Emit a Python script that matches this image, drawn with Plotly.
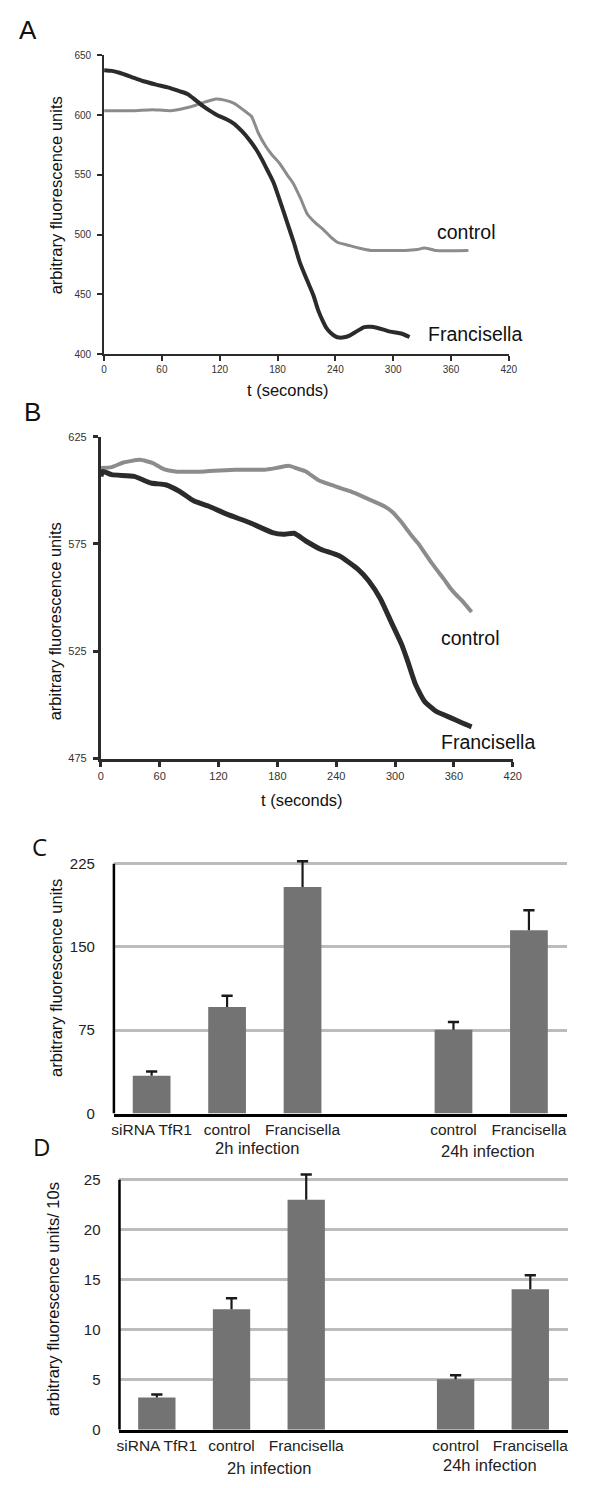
import plotly.graph_objects as go

# ---------------- Data ----------------
# Panel A
a_ctrl_t = [0, 30, 50, 69, 90, 105, 116, 125, 135, 145, 153, 160, 168, 175, 182, 190, 196, 204, 211, 219, 227, 235, 242, 254, 265, 277, 290, 312, 325, 332, 338, 344, 360, 378]
a_ctrl_v = [603.7, 603.7, 604.5, 603.7, 607, 611, 613.5, 612.5, 609.8, 604, 598.8, 585, 573.5, 566, 559.7, 550, 543.2, 530, 517, 510, 504.6, 498, 493.6, 490.9, 488.5, 486.7, 486.7, 486.7, 487.5, 488.7, 488, 486.7, 486.5, 486.7]
a_fran_t = [0, 8, 16, 28, 40, 54, 67, 78, 87, 95, 102, 110, 118, 127, 135, 143, 151, 158, 164, 170, 176, 183, 190, 197, 203, 210, 217, 222, 227, 231, 235, 240, 244, 249, 254, 262, 270, 277, 283, 290, 297, 303, 309, 317]
a_fran_v = [637.6, 637.0, 635.4, 632.0, 628.5, 625.5, 623.0, 620.0, 617.5, 612.5, 607.9, 603.5, 599.6, 596.5, 592.7, 586.5, 579.0, 571.0, 562.5, 553.0, 543.2, 527.0, 510.0, 493.0, 477.0, 463.0, 449.6, 437.0, 427.6, 421.5, 417.9, 414.8, 413.8, 414.0, 415.2, 419.0, 422.6, 422.8, 422.0, 420.5, 418.8, 418.0, 417.0, 414.3]

# Panel B
b_ctrl_t = [0, 11, 23, 40, 53, 64, 76, 106, 137, 167, 180, 192, 200, 209, 222, 239, 254, 270, 289, 297, 304, 311, 317, 324, 330, 336, 342, 350, 357, 363, 368, 378]
b_ctrl_v = [610.4, 610.8, 613.0, 614.2, 612.7, 609.9, 608.8, 608.8, 609.6, 609.6, 610.5, 611.4, 610.2, 608.8, 604.7, 601.9, 599.6, 596.5, 592.6, 590.0, 586.5, 582.5, 578.8, 575.0, 571.0, 567.0, 563.3, 558.5, 554.0, 551.0, 548.7, 543.3]
b_fran_t = [0, 2, 11, 34, 51, 66, 80, 95, 110, 129, 152, 175, 186, 197, 209, 224, 243, 262, 273, 285, 296, 307, 313, 321, 330, 342, 357, 368, 378]
b_fran_v = [606.5, 608.8, 607.3, 606.5, 603.4, 602.6, 599.6, 595.0, 592.6, 588.8, 584.9, 580.3, 579.5, 580.0, 576.4, 572.6, 569.5, 563.3, 557.9, 549.5, 538.7, 527.9, 520.2, 509.4, 501.7, 497.0, 494.0, 491.7, 489.8]

# Panels C and D
bar_labels = ["siRNA TfR1", "control", "Francisella", "control", "Francisella"]
bar_slots = [0, 1, 2, 4, 5]
groups = ["2h infection", "24h infection"]
c_means = [34, 96, 204, 75.4, 165]
c_errs = [3.9, 10.1, 23.2, 7.1, 18.1]
d_means = [3.23, 12.04, 23.0, 5.05, 14.05]
d_errs = [0.3, 1.1, 2.5, 0.4, 1.4]

a_yticks = [400, 450, 500, 550, 600, 650]
b_yticks = [475, 525, 575, 625]
t_ticks = [0, 60, 120, 180, 240, 300, 360, 420]
c_yticks = [0, 75, 150, 225]
d_yticks = [0, 5, 10, 15, 20, 25]

# ---------------- Style ----------------
W, H = 600, 1488
BLACK = "#2b2b2b"
GRAY = "#8c8c8c"
BAR = "#737373"
GRID = "#bcbcbc"
ERR = "#1a1a1a"
HF = "Liberation Sans, Arial, Helvetica, sans-serif"
OF = "Open Sans, DejaVu Sans, sans-serif"

def px_x(x):
    return x / W

def px_y(y):
    return 1 - y / H

fig = go.Figure()

# Panel A lines
fig.add_trace(go.Scatter(x=a_ctrl_t, y=a_ctrl_v, mode="lines", line=dict(color=GRAY, width=3, shape="spline", smoothing=0.5), xaxis="x", yaxis="y", showlegend=False))
fig.add_trace(go.Scatter(x=a_fran_t, y=a_fran_v, mode="lines", line=dict(color=BLACK, width=4, shape="spline", smoothing=0.5), xaxis="x", yaxis="y", showlegend=False))
# Panel B lines
fig.add_trace(go.Scatter(x=b_ctrl_t, y=b_ctrl_v, mode="lines", line=dict(color=GRAY, width=4, shape="spline", smoothing=0.5), xaxis="x2", yaxis="y2", showlegend=False))
fig.add_trace(go.Scatter(x=b_fran_t, y=b_fran_v, mode="lines", line=dict(color=BLACK, width=5, shape="spline", smoothing=0.5), xaxis="x2", yaxis="y2", showlegend=False))


def add_bars(means, errs, xa, ya):
    fig.add_trace(go.Bar(x=bar_slots, y=means, width=0.5, marker=dict(color=BAR, line=dict(width=0)),
                         xaxis=xa, yaxis=ya, showlegend=False))
    ex, ey = [], []
    for s, m, e in zip(bar_slots, means, errs):
        ex += [s, s, None]
        ey += [m, m + e, None]
    fig.add_trace(go.Scatter(x=ex, y=ey, mode="lines", line=dict(color=ERR, width=2.2),
                             xaxis=xa, yaxis=ya, showlegend=False, hoverinfo="skip"))
    fig.add_trace(go.Scatter(x=bar_slots, y=[m + e for m, e in zip(means, errs)], mode="markers",
                             marker=dict(symbol="line-ew", size=8, line=dict(color=ERR, width=2.5)),
                             xaxis=xa, yaxis=ya, showlegend=False, hoverinfo="skip"))


add_bars(c_means, c_errs, "x3", "y3")
add_bars(d_means, d_errs, "x4", "y4")

line_ax = dict(showline=True, linecolor=BLACK, showgrid=False, zeroline=False, ticks="outside", ticklen=5, tickcolor=BLACK,
               tickfont=dict(family=HF, size=10, color="#333333"), fixedrange=True)

# C / D plot extents (pixels) and headroom so the tallest error caps are not clipped
c_bottom, c_top_tick = 1110.0, 857.7
c_max = 229.0
c_top = c_bottom - (c_bottom - c_top_tick) * c_max / c_yticks[-1]
d_bottom, d_top_tick = 1429.3, 1176.7
d_max = 25.8
d_top = d_bottom - (d_bottom - d_top_tick) * d_max / d_yticks[-1]

fig.update_layout(
    width=W, height=H, margin=dict(l=0, r=0, t=0, b=0), paper_bgcolor="white", plot_bgcolor="white",
    xaxis=dict(line_ax, domain=[px_x(95), px_x(508)], range=[0, 420], tickvals=t_ticks, linewidth=2, tickwidth=2, anchor="y"),
    yaxis=dict(line_ax, domain=[px_y(343.3), px_y(41.7)], range=[400, 650], tickvals=a_yticks, linewidth=2, tickwidth=2, anchor="x", ticklabelstandoff=4),
    xaxis2=dict(line_ax, domain=[px_x(91.7), px_x(512)], range=[0, 420], tickvals=t_ticks, linewidth=3, tickwidth=3, anchor="y2",
                tickfont=dict(family=HF, size=11, color="#333333")),
    yaxis2=dict(line_ax, domain=[px_y(751.7), px_y(426.7)], range=[475, 625], tickvals=b_yticks, linewidth=3, tickwidth=3, anchor="x2",
                tickfont=dict(family=HF, size=11, color="#333333"), ticklabelstandoff=4),
    xaxis3=dict(domain=[px_x(105), px_x(567)], range=[-0.5, 5.5], tickvals=bar_slots, ticktext=bar_labels, ticks="", showline=True,
                linecolor="black", linewidth=2.5, showgrid=False, zeroline=False, anchor="y3",
                tickfont=dict(family=HF, size=15.5, color="#222222"), fixedrange=True),
    yaxis3=dict(domain=[px_y(c_bottom), px_y(c_top)], range=[0, c_max], tickvals=c_yticks, ticks="", showline=False,
                showgrid=True, gridcolor=GRID, gridwidth=2.5, zeroline=False, anchor="x3",
                tickfont=dict(family=HF, size=15, color="#222222"), ticklabelstandoff=18, fixedrange=True),
    xaxis4=dict(domain=[px_x(110.7), px_x(568)], range=[-0.5, 5.5], tickvals=bar_slots, ticktext=bar_labels, ticks="", showline=True,
                linecolor="black", linewidth=2.5, showgrid=False, zeroline=False, anchor="y4",
                tickfont=dict(family=HF, size=15.5, color="#222222"), fixedrange=True),
    yaxis4=dict(domain=[px_y(d_bottom), px_y(d_top)], range=[0, d_max], tickvals=d_yticks, ticks="", showline=False,
                showgrid=True, gridcolor=GRID, gridwidth=2.5, zeroline=False, anchor="x4",
                tickfont=dict(family=HF, size=15, color="#222222"), ticklabelstandoff=18, fixedrange=True),
)

# y axis lines of C and D ending at the top tick
fig.add_shape(type="line", xref="x3 domain", yref="y3", x0=0, x1=0, y0=0, y1=c_yticks[-1],
              line=dict(color="black", width=2.5))
fig.add_shape(type="line", xref="x4 domain", yref="y4", x0=0, x1=0, y0=0, y1=d_yticks[-1],
              line=dict(color="black", width=2.5))

ann = []
def add_text(text, x, y, size, family=HF, color="#111111", xanchor="center", yanchor="middle", angle=0):
    ann.append(dict(text=text, x=px_x(x), y=px_y(y), xref="paper", yref="paper", showarrow=False,
                    xanchor=xanchor, yanchor=yanchor, textangle=angle, font=dict(family=family, size=size, color=color)))

# panel letters
add_text("A", 17.5, 16.5, 26)
add_text("B", 22, 402, 26)
add_text("C", 29.5, 840, 24, family=OF)
add_text("D", 31, 1143.5, 24, family=OF)

# axis titles
add_text("t (seconds)", 283, 380, 16.5)
add_text("t (seconds)", 297, 793, 16.5)
add_text("arbitrary fluorescence units", 46, 183, 16.5, angle=-90)
add_text("arbitrary fluorescence units", 45, 613, 16.5, angle=-90)
add_text("arbitrary fluorescence units", 46, 973, 16.5, angle=-90)
add_text("arbitrary fluorescence units/ 10s", 43, 1297, 16.5, angle=-90)

# curve labels
add_text("control", 433, 220, 19.5, xanchor="left")
add_text("Francisella", 423, 323.5, 19.5, xanchor="left")
add_text("control", 437, 630, 19.5, xanchor="left")
add_text("Francisella", 437, 735, 19.5, xanchor="left")

# group labels
add_text(groups[0], 251, 1145, 16.5, color="#222222")
add_text(groups[1], 486.7, 1148, 16.5, color="#222222")
add_text(groups[0], 263, 1468, 16.5, color="#222222")
add_text(groups[1], 488.7, 1465, 16.5, color="#222222")

fig.update_layout(annotations=ann)
fig.write_html("out.html")
